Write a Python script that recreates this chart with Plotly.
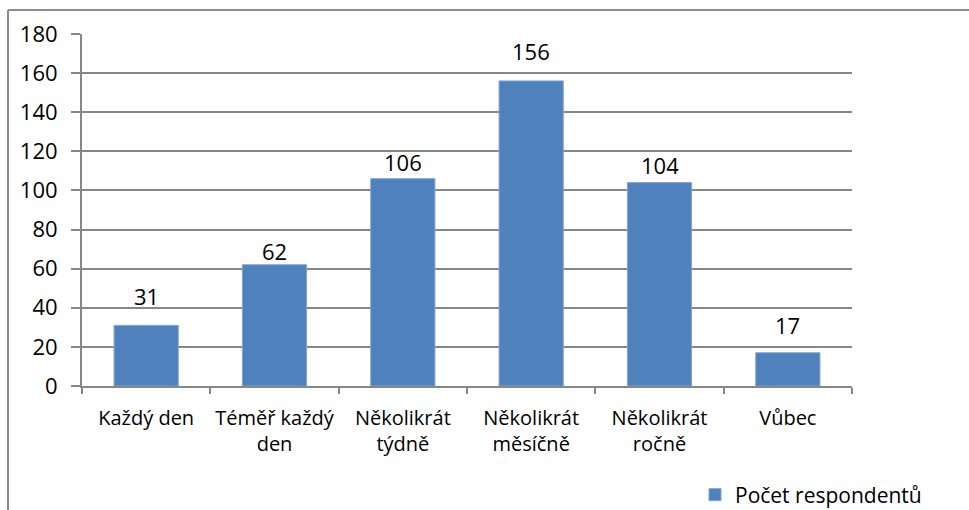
import plotly.graph_objects as go

# Survey answers: how often respondents do the activity
categories = ["Každý den", "Téměř každý<br>den", "Několikrát<br>týdně",
              "Několikrát<br>měsíčně", "Několikrát<br>ročně", "Vůbec"]
counts = [31, 62, 106, 156, 104, 17]
series_name = "Počet respondentů"
y_ticks = [0, 20, 40, 60, 80, 100, 120, 140, 160, 180]

# Layout in pixels
W, H = 969, 510
M_L, M_R, M_T, M_B = 82, 117, 34, 124
PLOT_W = W - M_L - M_R
PLOT_H = H - M_T - M_B

FONT = "Open Sans"
GRID = "#878787"
BAR = "#4F81BD"

# Extra lift (px) for each value label above its bar
label_lift = [12, -3, 0, 13, 1, 11]

fig = go.Figure()
fig.add_trace(go.Bar(
    x=categories, y=counts, name=series_name,
    marker=dict(color=BAR, line=dict(color="#7EA3CF", width=1)),
    width=0.5, showlegend=True,
))

for cat, val, lift in zip(categories, counts, label_lift):
    fig.add_annotation(
        x=cat, y=val, text=str(val), showarrow=False,
        yanchor="bottom", yshift=lift,
        font=dict(family=FONT, size=22, color="#000000"),
    )

# Chart-area border (left and top edges)
def px_x(px):
    return (px - M_L) / PLOT_W

def px_y(py):
    return (H - M_B - py) / PLOT_H

fig.add_shape(type="line", xref="paper", yref="paper",
              x0=px_x(8), x1=px_x(8), y0=px_y(10), y1=px_y(530),
              line=dict(color="#8C8C8C", width=2))
fig.add_shape(type="line", xref="paper", yref="paper",
              x0=px_x(8), x1=px_x(975), y0=px_y(10), y1=px_y(10),
              line=dict(color="#8C8C8C", width=2))

fig.update_layout(
    width=W, height=H,
    margin=dict(l=M_L, r=M_R, t=M_T, b=M_B, pad=0, autoexpand=False),
    paper_bgcolor="white", plot_bgcolor="white",
    font=dict(family=FONT, size=20, color="#000000"),
    bargap=0.5,
    legend=dict(
        x=px_x(695), y=px_y(495), xanchor="left", yanchor="middle",
        font=dict(family=FONT, size=21), bgcolor="rgba(0,0,0,0)",
        itemwidth=30, tracegroupgap=0,
    ),
)

fig.update_xaxes(
    type="category", range=[-0.5, len(categories) - 0.5], automargin=False,
    showline=True, linecolor=GRID, linewidth=2,
    ticks="outside", tickson="boundaries", ticklen=6, tickcolor=GRID, tickwidth=2,
    showgrid=False, tickfont=dict(family=FONT, size=20), tickangle=0,
    ticklabelstandoff=13,
)
fig.update_yaxes(
    range=[0, 180], tickvals=y_ticks, automargin=False,
    showline=True, linecolor=GRID, linewidth=2,
    ticks="outside", ticklen=9, tickcolor=GRID, tickwidth=2,
    showgrid=True, gridcolor=GRID, gridwidth=2,
    zeroline=False, tickfont=dict(family=FONT, size=22),
    ticklabelstandoff=9,
)

fig.write_html("out.html")
